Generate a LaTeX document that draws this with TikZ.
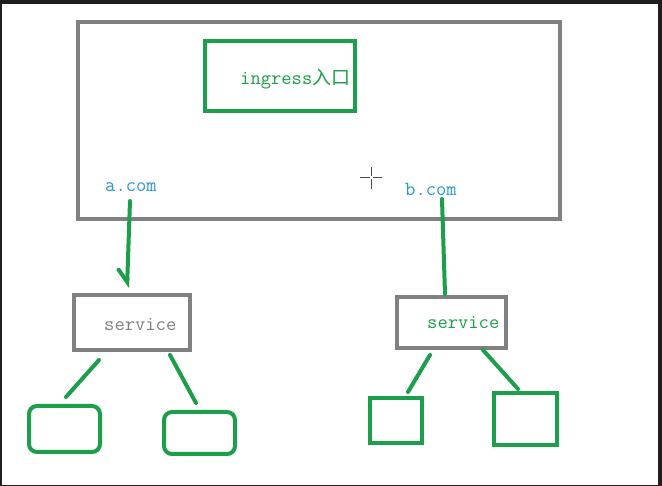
\documentclass[tikz,border=0pt]{standalone}
\usepackage{fontspec}
\newfontfamily\cjk{Noto Sans CJK SC}
\usetikzlibrary{arrows.meta}

\definecolor{pengreen}{RGB}{28,158,74}
\definecolor{pengray}{RGB}{128,128,128}
\definecolor{penblue}{RGB}{38,150,214}

\tikzset{
  graybox/.style={draw=pengray, line width=4pt, inner sep=0pt},
  greenbox/.style={draw=pengreen, line width=4pt, inner sep=0pt},
  podbox/.style={greenbox, rounded corners=8pt},
  conn/.style={pengreen, line width=4pt, line cap=round},
  host/.style={text=penblue, anchor=west, inner sep=0pt, font=\ttfamily\fontsize{20}{22}\selectfont},
  svctext/.style={anchor=west, inner sep=0pt, font=\ttfamily\fontsize{20}{22}\selectfont}
}

\begin{document}
\begin{tikzpicture}[x=1pt, y=-1pt]
    % screen frame
        \fill[black!88] (0,0) rectangle (662,486);
        \fill[white] (2,4) rectangle (658,485);
        \useasboundingbox (0,0) rectangle (662,486);
    % the big box and the ingress box in it
        \node[graybox, minimum width=482pt, minimum height=197pt] (cluster) at (319,120.5) {};
        \node[greenbox, minimum width=150pt, minimum height=70pt] (ingress) at (280,76) {};
        \node[svctext, text=pengreen] (ingresstxt) at (240,79) {ingress{\cjk\fontsize{19}{21}\selectfont 入口}};
    % the two host names
        \node[host] (acom) at (105,187) {a.com};
        \node[host] (bcom) at (405,189) {b.com};
    % mouse cursor, it was in the screenshot
        \draw[black!70, line width=1pt] (360,178) -- (382,178) (371,167) -- (371,189);
        \fill[white] (369.5,176.5) rectangle (372.5,179.5);
    % service boxes
        \node[graybox, minimum width=116pt, minimum height=55pt] (svcA) at (132,322.5) {};
        \node[svctext, text=pengray] (svcAtxt) at (104,325) {service};
        \node[graybox, minimum width=109pt, minimum height=51pt] (svcB) at (451.5,322.5) {};
        \node[svctext, text=pengreen] (svcBtxt) at (427,323) {service};
    % the pods below
        \node[podbox, minimum width=71pt, minimum height=46pt] (podA1) at (64.5,429) {};
        \node[podbox, minimum width=71pt, minimum height=42pt] (podA2) at (199.5,433) {};
        \node[greenbox, minimum width=52pt, minimum height=45pt] (podB1) at (396,420.5) {};
        \node[greenbox, minimum width=63pt, minimum height=52pt] (podB2) at (525.5,419) {};
    % ends of the hand drawn strokes
        \coordinate (aTop) at (130,201);
        \coordinate (aEnd) at (127,288);
        \coordinate (bTop) at (442,199);
        \coordinate (bEnd) at (445,294);
        \coordinate (a1s) at (99,360);  \coordinate (a1e) at (66,397);
        \coordinate (a2s) at (170,355); \coordinate (a2e) at (196,403);
        \coordinate (b1s) at (430,355); \coordinate (b1e) at (408,392);
        \coordinate (b2s) at (483,350); \coordinate (b2e) at (518,389);
    % the connectors
        \draw[conn, -{Straight Barb[right, length=12pt, width=18pt, line cap=round]}] (aTop) -- (aEnd);
        \draw[conn] (bTop) -- (bEnd);
        \draw[conn] (a1s) -- (a1e);
        \draw[conn] (a2s) -- (a2e);
        \draw[conn] (b1s) -- (b1e);
        \draw[conn] (b2s) -- (b2e);
\end{tikzpicture}
\end{document}
